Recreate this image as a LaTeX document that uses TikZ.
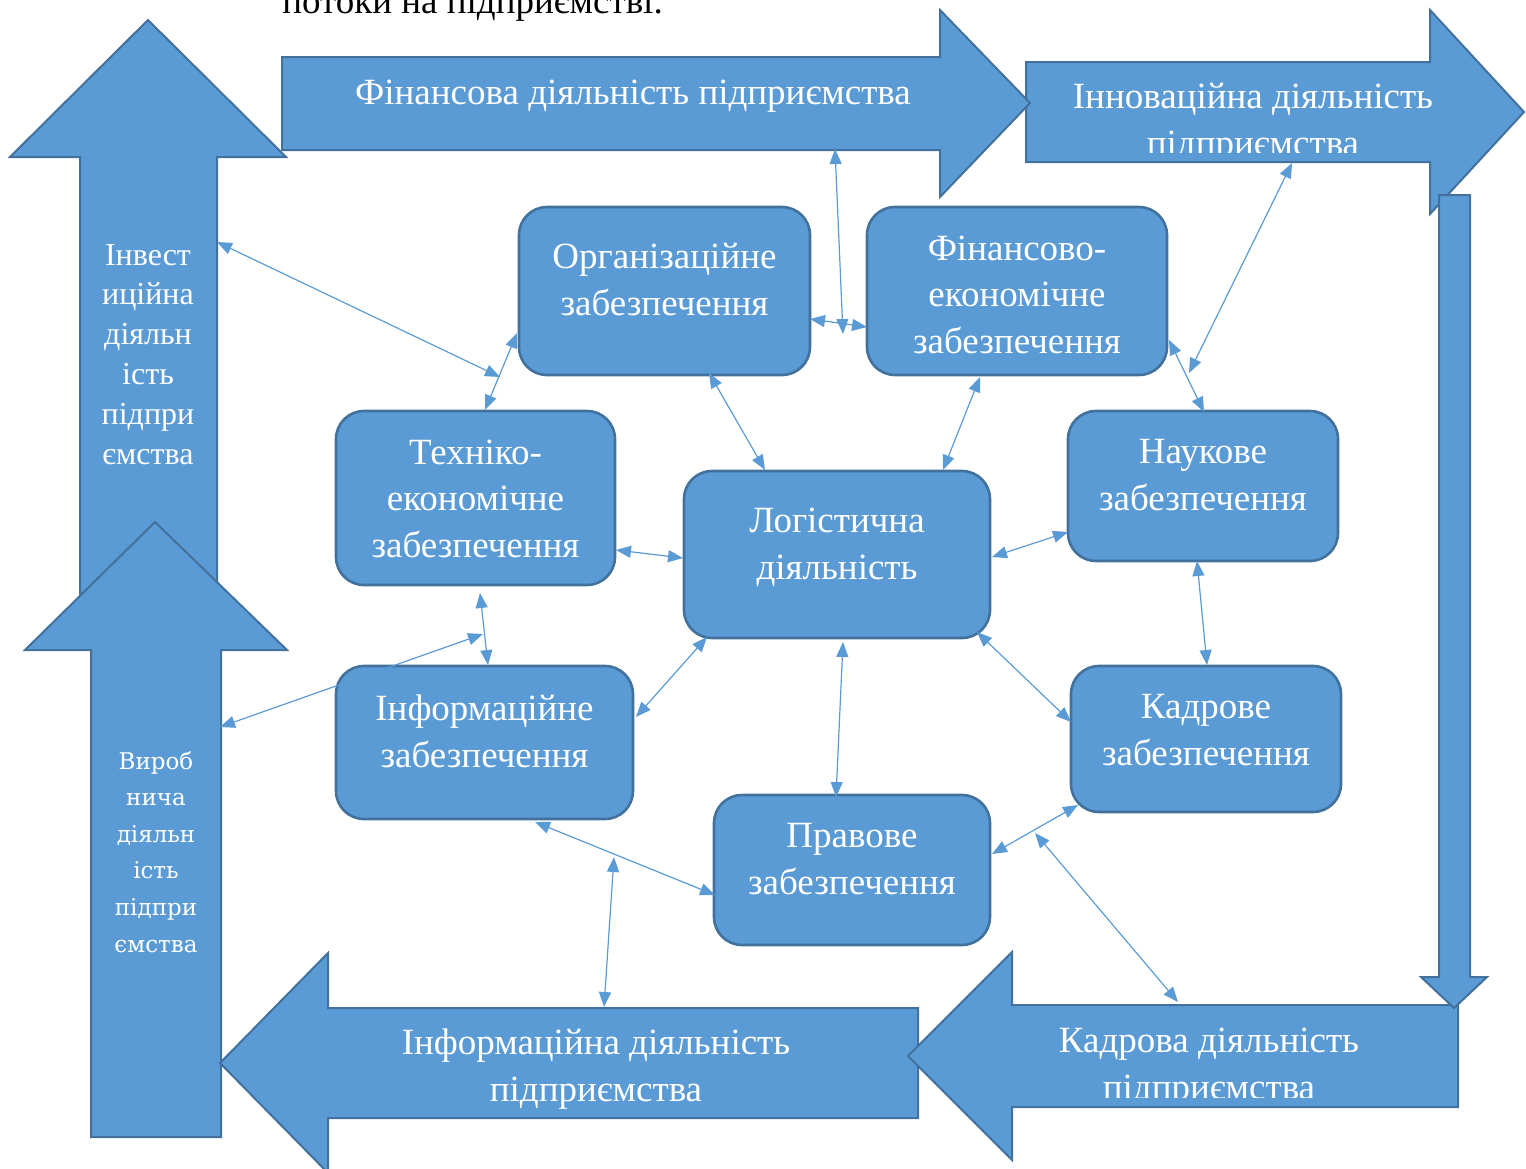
\documentclass[tikz,border=0pt]{standalone}
\usepackage{fontspec}
\setmainfont{Liberation Serif}
\newfontfamily\prodfont{DejaVu Serif}
\usetikzlibrary{arrows.meta}
\definecolor{fillblue}{HTML}{5B9BD5}
\definecolor{edgeblue}{HTML}{41719C}
\definecolor{linkblue}{HTML}{5B9BD5}
\tikzset{
  bigarrow/.style={fill=fillblue, draw=edgeblue, line width=1pt, line join=miter},
  boxnode/.style={rectangle, fill=fillblue, draw=edgeblue, line width=1.3pt, rounded corners=14pt, inner sep=0pt},
  lbl/.style={text=white, align=center, anchor=base, inner sep=0pt, font=\fontsize{18.5}{23.2}\selectfont},
  conn/.style={draw=linkblue, line width=0.6pt, arrows={Triangle[length=7.5pt,width=6pt]-Triangle[length=7.5pt,width=6pt]}},
}
\begin{document}
\begin{tikzpicture}[x=0.5pt, y=-0.5pt]
\useasboundingbox (0,0) rectangle (1526,1168);

% title fragment (cut off at the top edge, as in the reference)
\node[anchor=base west, inner sep=0pt, font=\fontsize{18.5}{23}\selectfont] (title) at (282,13) {потоки на підприємстві.};

% big arrows
\draw[bigarrow] (80,640) -- (80,157) -- (10,157) -- (148,20) -- (286,157) -- (217,157) -- (217,640) -- cycle;
\draw[bigarrow] (91,1137) -- (91,650) -- (25,650) -- (155,522) -- (287,650) -- (221,650) -- (221,1137) -- cycle;
\draw[bigarrow] (1026,62) -- (1430,62) -- (1430,10) -- (1524,112) -- (1430,214) -- (1430,162) -- (1026,162) -- cycle;
\draw[bigarrow] (282,57) -- (940,57) -- (940,10) -- (1030,103) -- (940,197) -- (940,150) -- (282,150) -- cycle;
\draw[bigarrow] (918,1008) -- (918,1118) -- (328,1118) -- (328,1173) -- (220,1063) -- (328,953) -- (328,1008) -- cycle;
\draw[bigarrow] (1458,1005) -- (1458,1107) -- (1012,1107) -- (1012,1160) -- (908,1056) -- (1012,952) -- (1012,1005) -- cycle;
\draw[bigarrow] (1439,195) -- (1470,195) -- (1470,977) -- (1487,977) -- (1454,1008) -- (1421,977) -- (1439,977) -- cycle;

% big arrow labels (anchor = baseline of the last line)
\node[lbl, font=\fontsize{16}{19.9}\selectfont] (invT) at (148,464) {Інвест\\иційна\\діяльн\\ість\\підпри\\ємства};
\node[lbl, font=\prodfont\fontsize{11.5}{18.3}\selectfont] (prodT) at (156,952) {Вироб\\нича\\діяльн\\ість\\підпри\\ємства};
\node[lbl] (finarrT) at (633,104) {Фінансова діяльність підприємства};
\begin{scope}
  \clip (1026,0) rectangle (1526,152);
  \node[lbl] (innT) at (1253,155) {Інноваційна діяльність\\підприємства};
\end{scope}
\begin{scope}
  \clip (908,952) rectangle (1526,1097);
  \node[lbl] (kadT) at (1209,1099) {Кадрова діяльність\\підприємства};
\end{scope}
\node[lbl] (infT) at (596,1101) {Інформаційна діяльність\\підприємства};

% boxes
\node[boxnode, minimum width=145.5pt, minimum height=84pt] (org) at (664.5,291) {};
\node[lbl] (orgT) at (664.5,315) {Організаційне\\забезпечення};
\node[boxnode, minimum width=150pt, minimum height=84pt] (fin) at (1017,291) {};
\node[lbl] (finT) at (1017,353) {Фінансово-\\економічне\\забезпечення};
\node[boxnode, minimum width=139.5pt, minimum height=87pt] (tech) at (475.5,498) {};
\node[lbl] (techT) at (475.5,557) {Техніко-\\економічне\\забезпечення};
\node[boxnode, minimum width=153pt, minimum height=83.5pt] (log) at (837,554.5) {};
\node[lbl] (logT) at (837,579) {Логістична\\діяльність};
\node[boxnode, minimum width=135pt, minimum height=75pt] (nauk) at (1203,486) {};
\node[lbl] (naukT) at (1203,510) {Наукове\\забезпечення};
\node[boxnode, minimum width=148.5pt, minimum height=76.5pt] (inf) at (484.5,742.5) {};
\node[lbl] (infoT) at (484.5,767) {Інформаційне\\забезпечення};
\node[boxnode, minimum width=135pt, minimum height=73pt] (kadr) at (1206,739) {};
\node[lbl] (kadrT) at (1206,765) {Кадрове\\забезпечення};
\node[boxnode, minimum width=138pt, minimum height=75pt] (prav) at (852,870) {};
\node[lbl] (pravT) at (852,894) {Правове\\забезпечення};

% connector end points
\coordinate (a1) at (835,149);  \coordinate (b1) at (843,334);
\coordinate (a2) at (810,319);  \coordinate (b2) at (867,327);
\coordinate (a3) at (217,242);  \coordinate (b3) at (500,377);
\coordinate (a4) at (517,333);  \coordinate (b4) at (485,410);
\coordinate (a5) at (709,373);  \coordinate (b5) at (765,470);
\coordinate (a6) at (980,377);  \coordinate (b6) at (943,470);
\coordinate (a7) at (1292,163); \coordinate (b7) at (1189,373);
\coordinate (a8) at (1169,340); \coordinate (b8) at (1204,412);
\coordinate (a9) at (616,550);  \coordinate (b9) at (683,558);
\coordinate (a10) at (992,557); \coordinate (b10) at (1068,532);
\coordinate (a11) at (480,593); \coordinate (b11) at (488,665);
\coordinate (a12) at (220,727); \coordinate (b12) at (483,634);
\coordinate (a13) at (707,637); \coordinate (b13) at (636,717);
\coordinate (a14) at (843,642); \coordinate (b14) at (836,797);
\coordinate (a15) at (977,632); \coordinate (b15) at (1071,722);
\coordinate (a16) at (1197,561); \coordinate (b16) at (1207,665);
\coordinate (a17) at (535,822); \coordinate (b17) at (715,895);
\coordinate (a18) at (614,857); \coordinate (b18) at (604,1007);
\coordinate (a19) at (992,854); \coordinate (b19) at (1078,805);
\coordinate (a20) at (1035,833); \coordinate (b20) at (1178,1002);

\foreach \i in {1,...,20} {\draw[conn] (a\i) -- (b\i);}
\end{tikzpicture}
\end{document}
